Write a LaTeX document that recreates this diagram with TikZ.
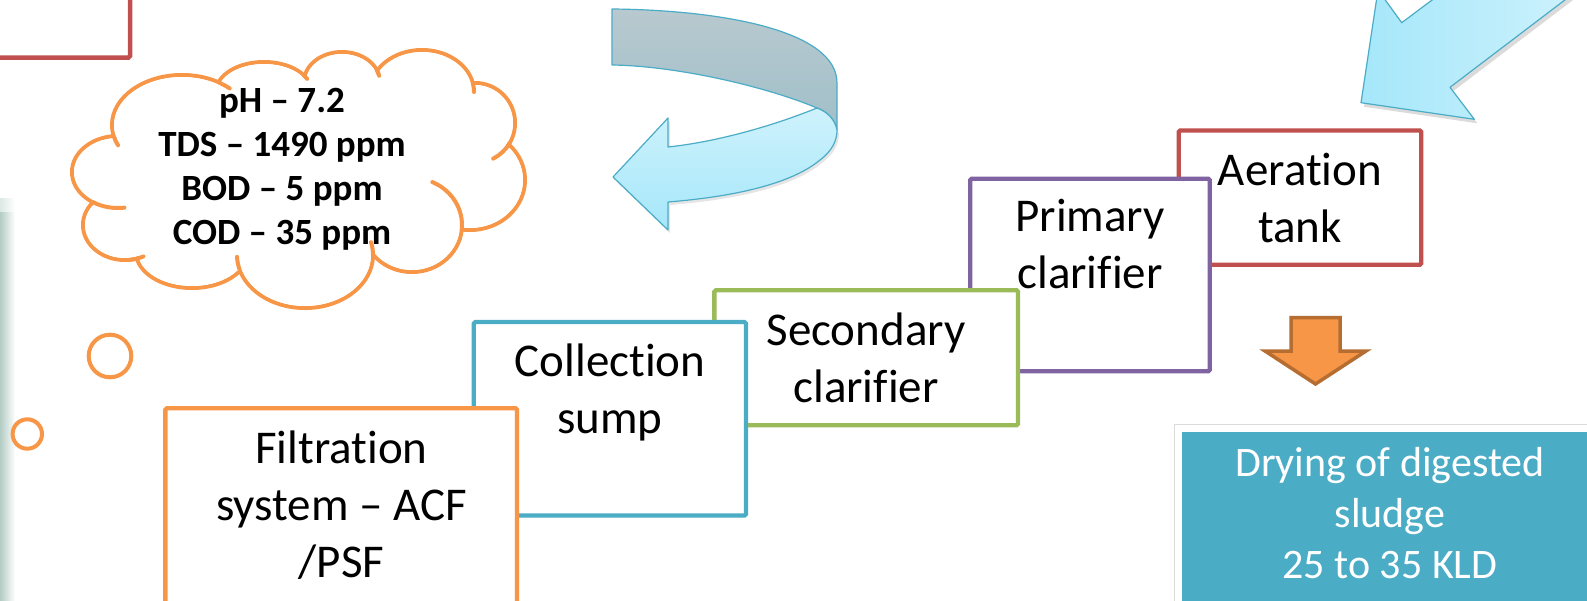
\documentclass[tikz,border=0pt]{standalone}
\usepackage{fontspec}
\setmainfont{Carlito}[Ligatures={TeX,NoCommon}]

\definecolor{accOrange}{HTML}{F79646}
\definecolor{accOrangeDark}{HTML}{B66D31}
\definecolor{accBlue}{HTML}{4BACC6}
\definecolor{accGreen}{HTML}{9BBB59}
\definecolor{accPurple}{HTML}{8064A2}
\definecolor{accRed}{HTML}{C0504D}
\definecolor{ribbonTop}{RGB}{184,201,207}
\definecolor{ribbonBot}{RGB}{160,191,201}
\definecolor{skyTop}{RGB}{206,242,252}
\definecolor{skyBot}{RGB}{165,231,250}
\definecolor{skyLight}{RGB}{218,245,253}
\definecolor{edgeShade}{RGB}{178,204,196}

\tikzset{
  stagebox/.style={draw=#1, line width=4.3pt, fill=white, rounded corners=1.5pt,
                   inner sep=0pt, outer sep=0pt},
  stagetext/.style={anchor=base, inner sep=0pt, font=\fontsize{47}{57}\selectfont},
  cloudline/.style={draw=accOrange, line width=4pt, line cap=round},
  arrowedge/.style={draw=accBlue, line width=1.2pt, line join=round},
}

\begin{document}
\begin{tikzpicture}[x=1pt, y=-1pt]
\useasboundingbox (0,0) rectangle (1587,600);
\clip (0,0) rectangle (1587,600);
\fill[white] (0,0) rectangle (1587,600);

% soft shadow strip along the left edge
\shade[left color=edgeShade, right color=white, opacity=0.45] (0,198) rectangle (15,212);
\shade[left color=edgeShade, right color=white] (0,212) rectangle (15,600);

% frame in the top left corner
\draw[accRed, line width=4.5pt, rounded corners=1.5pt] (-30,-30) rectangle (130,57.5);

% ---------- cloud with the water parameters ----------
\def\bumps{182/125/70/50, 264/92/48/30, 342/82/38/30, 422/92/52/42,
           475/123/40/40, 470/180/55/50, 412/225/50/47, 305/255/68/53,
           192/252/56/36, 125/225/42/35, 118/172/46/36}
\foreach \cx/\cy/\rx/\ry in \bumps
  \draw[cloudline] (\cx,\cy) ellipse ({\rx pt} and {\ry pt});
\foreach \cx/\cy/\rx/\ry in \bumps
  \fill[white] (\cx,\cy) ellipse ({(\rx-2)*1pt} and {(\ry-2)*1pt});
\fill[white] (300,170) ellipse (190pt and 90pt);
% inner hooks where the puffs meet
\foreach \cx/\cy/\rx/\ry/\a/\b in {
    182/125/70/50/194/204, 182/125/70/50/57/47, 264/92/48/30/34/26,
    342/82/38/30/24/12, 422/92/52/42/12/0, 475/123/40/40/-30/-63,
    412/225/50/47/-6/66, 305/255/68/53/0/14, 305/255/68/53/195/182,
    125/225/42/35/276/296, 118/172/46/36/238/278}
  \draw[cloudline] (\cx,\cy) ++(\a:{\rx pt} and {\ry pt})
    arc[start angle=\a, end angle=\b, x radius=\rx pt, y radius=\ry pt];

\node[anchor=base, inner sep=0pt, font=\bfseries\fontsize{37}{44.3}\selectfont]
  (params) at (282,112)
  {\begin{tabular}[t]{@{}c@{}}pH -- 7.2\\TDS -- 1490 ppm\\BOD -- 5 ppm\\COD -- 35 ppm\end{tabular}};

% thought bubbles
\draw[accOrange, line width=4pt] (110,356) circle (21.3pt);
\draw[accOrange, line width=4pt] (27.3,434) circle (14.7pt);

% ---------- curved return arrow ----------
\begin{scope}[shift={(2,3)}]
  \fill[black, opacity=0.10]
    (817,108) .. controls (770,127) and (715,142) .. (668,147)
    -- (668,118) -- (613,177) -- (668,230) -- (668,202)
    .. controls (730,197) and (790,185) .. (820,160)
    .. controls (833,150) and (837,140) .. (837,130) -- cycle;
\end{scope}
\path[arrowedge, top color=ribbonTop, bottom color=ribbonBot]
  (612,9) .. controls (720,10) and (837,30) .. (837,83)
  -- (837,130)
  .. controls (835,120) and (828,112) .. (817,108)
  .. controls (770,88) and (680,66) .. (612,65) -- cycle;
\path[arrowedge, top color=skyTop, bottom color=skyBot]
  (817,108) .. controls (770,127) and (715,142) .. (668,147)
  -- (668,118) -- (613,177) -- (668,230) -- (668,202)
  .. controls (730,197) and (790,185) .. (820,160)
  .. controls (833,150) and (837,140) .. (837,130)
  .. controls (835,120) and (828,112) .. (817,108) -- cycle;

% ---------- straight arrow from the top right ----------
\begin{scope}[shift={(3,4)}]
  \fill[black, opacity=0.14]
    (1649,-64) -- (1450,87.3) -- (1474.3,119.3) -- (1361,102.7)
    -- (1378,-10) -- (1401.7,22.7) -- (1602,-127) -- cycle;
\end{scope}
\path[arrowedge, left color=skyBot, right color=skyLight]
  (1649,-64) -- (1450,87.3) -- (1474.3,119.3) -- (1361,102.7)
  -- (1378,-10) -- (1401.7,22.7) -- (1602,-127) -- cycle;

% ---------- treatment stages, stacked as steps ----------
\node[stagebox=accRed, minimum width=242.6pt, minimum height=134.2pt]
  (aeration) at (1300,197.6) {};
\node[stagetext] (aeration-text) at (1300,185)
  {\begin{tabular}[t]{@{}c@{}}Aeration\\tank\end{tabular}};

\node[stagebox=accPurple, minimum width=239.4pt, minimum height=192.6pt]
  (primary) at (1090,275) {};
\node[stagetext] (primary-text) at (1090,231.7)
  {\begin{tabular}[t]{@{}c@{}}Primary\\clarifier\end{tabular}};

\node[stagebox=accGreen, minimum width=303.7pt, minimum height=135pt]
  (secondary) at (866.2,357.8) {};
\node[stagetext] (secondary-text) at (866,345)
  {\begin{tabular}[t]{@{}c@{}}Secondary\\clarifier\end{tabular}};

\node[stagebox=accBlue, minimum width=272.2pt, minimum height=193.5pt]
  (collection) at (609.9,418.8) {};
\node[stagetext] (collection-text) at (610,376.7)
  {\begin{tabular}[t]{@{}c@{}}Collection\\sump\end{tabular}};

\node[stagebox=accOrange, minimum width=351.7pt, minimum height=260pt]
  (filtration) at (341.2,538.3) {};
\node[stagetext] (filtration-text) at (341.5,463.3)
  {\begin{tabular}[t]{@{}c@{}}Filtration\\system -- ACF\\/PSF\end{tabular}};

% ---------- sludge drying ----------
\draw[fill=accOrange, draw=accOrangeDark, line width=3.5pt]
  (1291,317.7) -- (1340,317.7) -- (1340,351) -- (1366,351)
  -- (1315.5,384) -- (1265,351) -- (1291,351) -- cycle;

\fill[white] (1174,424) rectangle (1620,640);
\draw[black!14, line width=1pt] (1174,640) -- (1174,424) -- (1620,424);
\node[fill=accBlue, anchor=north west, inner sep=0pt,
      minimum width=440pt, minimum height=200pt] (drying) at (1182,432) {};
\node[anchor=base, inner sep=0pt, text=white, font=\fontsize{42}{51}\selectfont]
  (drying-text) at (1390,476.7)
  {\begin{tabular}[t]{@{}c@{}}Drying of digested\\sludge\\25 to 35 KLD\end{tabular}};
\end{tikzpicture}
\end{document}
